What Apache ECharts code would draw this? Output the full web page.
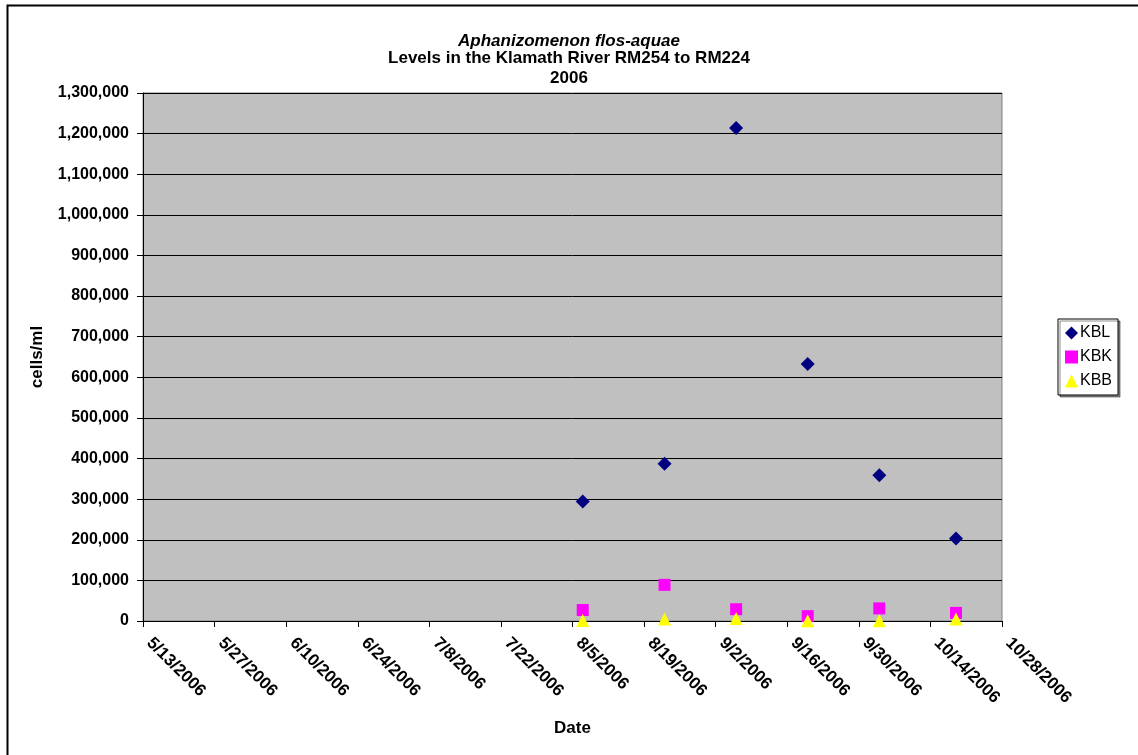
<!DOCTYPE html>
<html>
<head>
<meta charset="utf-8">
<script src="https://cdn.jsdelivr.net/npm/echarts@6/dist/echarts.min.js"></script>
<style>
  html, body { margin: 0; padding: 0; background: #fff; }
  #chart { width: 1138px; height: 755px; }
</style>
</head>
<body>
<div id="chart"></div>
<script>
// Sampling dates (M/D/YYYY)
const sampleDates = ['8/7/2006', '8/23/2006', '9/6/2006', '9/20/2006', '10/4/2006', '10/19/2006'];
// Aphanizomenon flos-aquae, cells/ml, per station
const kbl = [294000, 387000, 1214000, 633000, 359000, 203000];
const kbk = [27000, 89000, 29000, 12000, 31000, 20000];
const kbb = [1000, 5000, 6000, 500, 500, 5000];
const seriesNames = ['KBL', 'KBK', 'KBB'];

// Date axis runs 5/13/2006 .. 10/28/2006 in 14-day steps (spreadsheet serial days)
const axisStart = '5/13/2006';
const axisEnd = '10/28/2006';
const dayStep = 14;

const EPOCH = Date.UTC(1899, 11, 30);
function toSerial(s) {
  const [m, d, y] = s.split('/').map(Number);
  return Math.round((Date.UTC(y, m - 1, d) - EPOCH) / 86400000);
}
function fromSerial(n) {
  const dt = new Date(EPOCH + n * 86400000);
  return (dt.getUTCMonth() + 1) + '/' + dt.getUTCDate() + '/' + dt.getUTCFullYear();
}
function withCommas(v) {
  return String(v).replace(/\B(?=(\d{3})+(?!\d))/g, ',');
}
function pairs(vals) {
  return vals.map((v, i) => [toSerial(sampleDates[i]), v]);
}

const FONT = 'Liberation Sans, Arial, sans-serif';
const chart = echarts.init(document.getElementById('chart'), null, { renderer: 'canvas' });

chart.setOption({
  backgroundColor: '#ffffff',
  animation: false,
  title: [
    { text: 'Aphanizomenon flos-aquae', left: 'center', top: 28,
      textStyle: { fontFamily: FONT, fontSize: 17, fontWeight: 'bold', fontStyle: 'italic', color: '#000' } },
    { text: 'Levels in the Klamath River RM254 to RM224', left: 'center', top: 45,
      textStyle: { fontFamily: FONT, fontSize: 17, fontWeight: 'bold', color: '#000' } },
    { text: '2006', left: 'center', top: 65,
      textStyle: { fontFamily: FONT, fontSize: 17, fontWeight: 'bold', color: '#000' } }
  ],
  graphic: [
    { type: 'rect', left: 5, top: 3, z: 100, silent: true,
      shape: { width: 1145, height: 770 },
      style: { fill: 'none', stroke: '#000', lineWidth: 2 } }
  ],
  legend: {
    orient: 'vertical',
    left: 1058,
    top: 319,
    padding: [6, 6, 6, 7],
    itemGap: 8,
    itemWidth: 13,
    itemHeight: 13,
    backgroundColor: '#fff',
    borderColor: '#000',
    borderWidth: 1,
    shadowColor: 'rgba(0,0,0,0.45)',
    shadowOffsetX: 2,
    shadowOffsetY: 2,
    textStyle: { fontFamily: FONT, fontSize: 16, color: '#000', padding: [0, 0, 0, -3] },
    data: seriesNames
  },
  grid: {
    left: 143, right: 136, top: 93, bottom: 134,
    show: true,
    backgroundColor: '#C0C0C0',
    borderColor: '#808080',
    borderWidth: 1
  },
  xAxis: {
    type: 'value',
    min: toSerial(axisStart),
    max: toSerial(axisEnd),
    interval: dayStep,
    name: 'Date',
    nameLocation: 'middle',
    nameGap: 99,
    nameTextStyle: { fontFamily: FONT, fontSize: 17, fontWeight: 'bold', color: '#000' },
    axisLine: { show: true, lineStyle: { color: '#000', width: 1 } },
    axisTick: { show: true, length: 6, lineStyle: { color: '#000' } },
    splitLine: { show: false },
    axisLabel: {
      rotate: -45,
      margin: 13,
      padding: [0, 0, 0, 9],
      fontFamily: FONT, fontSize: 17, fontWeight: 'bold', color: '#000',
      showMinLabel: true, showMaxLabel: true,
      formatter: v => fromSerial(v)
    }
  },
  yAxis: {
    type: 'value',
    min: 0,
    max: 1300000,
    interval: 100000,
    name: 'cells/ml',
    nameLocation: 'middle',
    nameGap: 97,
    nameRotate: 90,
    nameTextStyle: { fontFamily: FONT, fontSize: 17, fontWeight: 'bold', color: '#000' },
    axisLine: { show: true, lineStyle: { color: '#000', width: 1 } },
    axisTick: { show: true, length: 6, lineStyle: { color: '#000' } },
    splitLine: { show: true, lineStyle: { color: '#000', width: 1 } },
    axisLabel: {
      margin: 14,
      fontFamily: FONT, fontSize: 16, fontWeight: 'bold', color: '#000',
      formatter: v => withCommas(v)
    }
  },
  series: [
    { name: 'KBL', type: 'scatter', symbol: 'diamond', symbolSize: 14,
      itemStyle: { color: '#000080', opacity: 1 }, data: pairs(kbl), z: 3 },
    { name: 'KBK', type: 'scatter', symbol: 'rect', symbolSize: 12,
      itemStyle: { color: '#FF00FF', opacity: 1 }, data: pairs(kbk), z: 4 },
    { name: 'KBB', type: 'scatter', symbol: 'triangle', symbolSize: 13,
      itemStyle: { color: '#FFFF00', opacity: 1 }, data: pairs(kbb), z: 5 }
  ]
});
</script>
</body>
</html>
